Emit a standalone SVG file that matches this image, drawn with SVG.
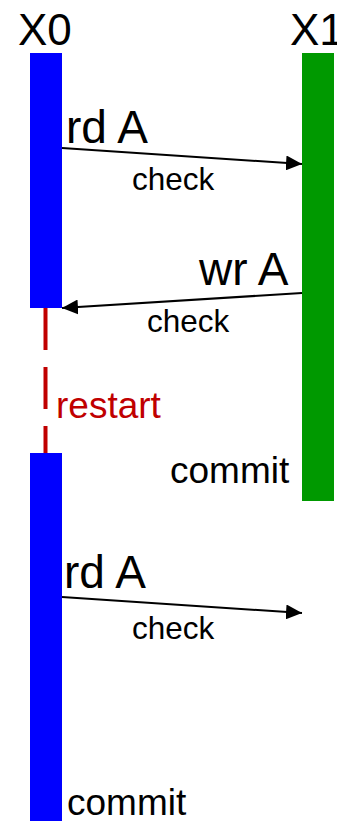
<svg xmlns="http://www.w3.org/2000/svg" width="337" height="821" viewBox="0 0 337 821">
<defs>
<style>
text{font-family:"Liberation Sans",Arial,sans-serif;fill:#000}
.big{font-size:44px}
.op{font-size:46px}
.chk{font-size:31.5px}
.cm{font-size:37px}
.rs{font-size:37px;fill:#c00000}
.msg{stroke:#000;stroke-width:2;fill:none;marker-end:url(#ah)}
</style>
<marker id="ah" markerUnits="userSpaceOnUse" markerWidth="16" markerHeight="15" refX="16" refY="7.5" orient="auto" viewBox="0 0 16 15">
<path d="M0,0 L16,7.5 L0,15 z" fill="#000"/>
</marker>
</defs>
<rect width="337" height="821" fill="#fff"/>
<g id="X0">
<text class="big" x="18" y="45">X0</text>
<rect x="30" y="53" width="32" height="255" fill="#0000ff"/>
<line x1="45.5" y1="308" x2="45.5" y2="453" stroke="#c00000" stroke-width="4" stroke-dasharray="42 17"/>
<text class="rs" x="56" y="418">restart</text>
<rect x="30" y="453" width="32" height="368" fill="#0000ff"/>
<text class="cm" x="67" y="815">commit</text>
</g>
<g id="X1">
<text class="big" x="290" y="45">X1</text>
<rect x="302" y="53" width="32" height="448" fill="#009900"/>
<text class="cm" x="170" y="483">commit</text>
</g>
<g id="connectors">
<line class="msg" x1="62" y1="148" x2="302" y2="164"/>
<text class="op" x="66" y="143">rd A</text>
<text class="chk" x="132" y="190">check</text>
<line class="msg" x1="302" y1="293" x2="62" y2="308"/>
<text class="op" x="199" y="285">wr A</text>
<text class="chk" x="147" y="332">check</text>
<line class="msg" x1="62" y1="597" x2="302" y2="613"/>
<text class="op" x="64" y="588">rd A</text>
<text class="chk" x="132" y="639">check</text>
</g>
</svg>
